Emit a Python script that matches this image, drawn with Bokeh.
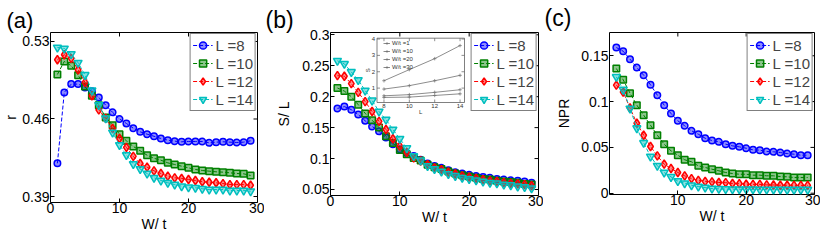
from bokeh.plotting import figure
from bokeh.models import (ColumnDataSource, FixedTicker, Legend, LegendItem,
                          Title, Range1d, PrintfTickFormatter)
from bokeh.layouts import row
from bokeh.embed import file_html
from bokeh.resources import INLINE
from bokeh.core.properties import value

FONT = "Liberation Sans"

# ---------------- data ----------------
W = list(range(1, 30))
series_labels = ["L =8", "L =10", "L =12", "L =14"]

a_L8 = [0.420, 0.484, 0.4915, 0.4915, 0.4885, 0.485, 0.4795, 0.4725, 0.466, 0.460,
        0.456, 0.4517, 0.4484, 0.4463, 0.4444, 0.4424, 0.4409, 0.440, 0.4394, 0.4397,
        0.4397, 0.4397, 0.4385, 0.4391, 0.4394, 0.4391, 0.4388, 0.4391, 0.4403]
a_L10 = [0.5002, 0.512, 0.5081, 0.4996, 0.4894, 0.481, 0.4725, 0.4614, 0.4544, 0.4463,
         0.4403, 0.4352, 0.4313, 0.4273, 0.4245, 0.4228, 0.4204, 0.4189, 0.4174, 0.4159,
         0.4144, 0.4135, 0.4129, 0.4123, 0.412, 0.4114, 0.4108, 0.4105, 0.409]
a_L12 = [0.5135, 0.518, 0.5147, 0.5044, 0.493, 0.481, 0.4683, 0.4605, 0.4514, 0.4424,
         0.4343, 0.4262, 0.4198, 0.4165, 0.4132, 0.4108, 0.4084, 0.4069, 0.4063, 0.4054,
         0.4045, 0.4033, 0.4029, 0.4024, 0.4017, 0.4008, 0.4008, 0.4008, 0.4002]
a_L14 = [0.5246, 0.5237, 0.5187, 0.5108, 0.4998, 0.4858, 0.4727, 0.4607, 0.4478, 0.4365,
         0.4275, 0.4194, 0.4148, 0.4108, 0.4069, 0.4045, 0.4024, 0.4008, 0.3993, 0.3984,
         0.3979, 0.397, 0.3963, 0.3963, 0.3963, 0.3954, 0.3954, 0.3954, 0.3948]

b_L8 = [0.181, 0.184, 0.179, 0.171, 0.161, 0.152, 0.144, 0.134, 0.123, 0.115,
        0.109, 0.104, 0.098, 0.092, 0.088, 0.085, 0.081, 0.078, 0.076, 0.074,
        0.072, 0.070, 0.069, 0.067, 0.066, 0.065, 0.064, 0.063, 0.061]
b_L10 = [0.214, 0.209, 0.200, 0.187, 0.173, 0.162, 0.150, 0.136, 0.125, 0.114,
         0.107, 0.101, 0.097, 0.090, 0.086, 0.083, 0.079, 0.076, 0.073, 0.071,
         0.069, 0.067, 0.066, 0.064, 0.063, 0.062, 0.061, 0.059, 0.058]
b_L12 = [0.234, 0.233, 0.221, 0.207, 0.192, 0.176, 0.160, 0.147, 0.132, 0.120,
         0.110, 0.101, 0.096, 0.090, 0.085, 0.082, 0.078, 0.075, 0.072, 0.070,
         0.068, 0.066, 0.064, 0.063, 0.061, 0.060, 0.059, 0.058, 0.056]
b_L14 = [0.258, 0.253, 0.240, 0.227, 0.210, 0.194, 0.176, 0.163, 0.147, 0.132,
         0.117, 0.104, 0.097, 0.088, 0.083, 0.079, 0.075, 0.072, 0.069, 0.067,
         0.065, 0.063, 0.061, 0.060, 0.058, 0.057, 0.055, 0.054, 0.052]

c_L8 = [0.159, 0.155, 0.1463, 0.1372, 0.1288, 0.1183, 0.107, 0.0961, 0.087, 0.079,
        0.0736, 0.0681, 0.0644, 0.060, 0.0575, 0.0561, 0.0535, 0.0517, 0.0506, 0.0491,
        0.0474, 0.047, 0.0455, 0.0452, 0.0444, 0.0433, 0.0426, 0.0415, 0.0415]
c_L10 = [0.1361, 0.1238, 0.1092, 0.0961, 0.0852, 0.0742, 0.0633, 0.0535, 0.0463, 0.0415,
         0.0365, 0.0343, 0.0299, 0.0281, 0.0262, 0.0245, 0.0226, 0.0215, 0.0207, 0.0207,
         0.0197, 0.0197, 0.019, 0.019, 0.0182, 0.0179, 0.0171, 0.0171, 0.0171]
c_L12 = [0.118, 0.1105, 0.093, 0.0764, 0.0633, 0.051, 0.0408, 0.0317, 0.027, 0.0226,
         0.019, 0.016, 0.014, 0.013, 0.0124, 0.0117, 0.0115, 0.0106, 0.0104, 0.0098,
         0.0097, 0.0096, 0.0091, 0.009, 0.0087, 0.0087, 0.0086, 0.0086, 0.0085]
c_L14 = [0.127, 0.113, 0.0925, 0.071, 0.055, 0.0401, 0.030, 0.0226, 0.0178, 0.0132,
         0.0109, 0.0087, 0.0073, 0.0062, 0.0051, 0.0048, 0.0045, 0.0044, 0.0043, 0.0042,
         0.0042, 0.0041, 0.004, 0.004, 0.004, 0.0039, 0.0039, 0.0039, 0.0039]

# inset of (b): S versus L
inset_L = [8, 10, 12, 14]
inset_W_labels = ["W/t =1", "W/t =10", "W/t =20", "W/t =30"]
S_W1 = [1.45, 2.13, 2.8, 3.6]
S_W10 = [0.94, 1.15, 1.45, 1.78]
S_W20 = [0.53, 0.6, 0.74, 0.9]
S_W30 = [0.43, 0.45, 0.55, 0.65]
inset_xticks = [8, 10, 12, 14]
inset_yticks = [1, 2, 3, 4]
inset_xlim = (7.45, 14.35)
inset_ylim = (0.12, 4.05)

x_ticks_ab = [0, 10, 20, 30]
x_ticks_c = [10, 20, 30]
a_yticks = [0.39, 0.46, 0.53]
a_ylabels = ["0.39", "0.46", "0.53"]
b_yticks = [0.05, 0.1, 0.15, 0.2, 0.25, 0.3]
b_ylabels = ["0.05", "0.1", "0.15", "0.2", "0.25", "0.3"]
c_yticks = [0, 0.05, 0.1, 0.15]
c_ylabels = ["0", "0.05", "0.1", "0.15"]

colors = ["#0000ff", "#008000", "#ff0000", "#00bfbf"]
markers = ["circle", "square", "diamond", "inverted_triangle"]
msizes = [6.5, 6.5, 8.5, 8]

PAGE = 8
FIG_H = 230
TICK = 4  # inward tick length in px


def style_axis(ax, ticks, labels=None, standoff=1, label_standoff=0):
    ax.ticker = FixedTicker(ticks=ticks)
    ax.axis_line_color = None
    ax.major_tick_in = TICK
    ax.major_tick_out = 0
    ax.major_tick_line_color = "black"
    ax.minor_tick_line_color = None
    ax.major_label_text_font = FONT
    ax.major_label_text_color = "black"
    ax.major_label_text_font_size = "14px"
    ax.axis_label_text_font = FONT
    ax.axis_label_text_font_style = "normal"
    ax.axis_label_text_font_size = "14px"
    ax.axis_label_text_color = "black"
    ax.axis_label_standoff = label_standoff
    ax.major_label_standoff = standoff
    ax.formatter = PrintfTickFormatter(format="%g")
    if labels is not None:
        ax.major_label_overrides = dict(zip(ticks, labels))


def make_panel(fig_x0, frame_x0, frame_w, fig_x1, frame_y0, frame_h, yr,
               xticks, yticks, ylabels, ylab, yl_standoff, tag, tag_size,
               tag_standoff, data):
    left = frame_x0 - fig_x0
    right = fig_x1 - frame_x0 - frame_w
    top = frame_y0 - PAGE
    bottom = FIG_H - top - frame_h
    p = figure(frame_width=frame_w, frame_height=frame_h,
               min_border_left=left, min_border_right=right,
               min_border_top=top, min_border_bottom=bottom,
               x_range=Range1d(0, 30), y_range=Range1d(*yr),
               output_backend="svg", toolbar_location=None)
    p.xgrid.grid_line_color = None
    p.ygrid.grid_line_color = None
    p.outline_line_color = "black"
    p.outline_line_width = 1
    p.background_fill_color = "white"
    p.border_fill_color = "white"

    style_axis(p.xaxis[0], xticks, standoff=0, label_standoff=0)
    p.xaxis[0].axis_label = "W/ t"
    style_axis(p.yaxis[0], yticks, ylabels, standoff=1, label_standoff=yl_standoff)
    p.yaxis[0].axis_label = ylab

    # inward ticks on the top and right edges of the frame
    sx = 30.0 / frame_w
    sy = (yr[1] - yr[0]) / frame_h
    nx, ny = len(xticks), len(yticks)
    p.segment(x0=xticks, y0=[yr[1]] * nx, x1=xticks, y1=[yr[1] - TICK * sy] * nx,
              line_color="black", line_width=1)
    p.segment(x0=[30] * ny, y0=yticks, x1=[30 - TICK * sx] * ny, y1=yticks,
              line_color="black", line_width=1)

    items = []
    for vals, c, m, s, lab in zip(data, colors, markers, msizes, series_labels):
        src = ColumnDataSource(dict(x=W, y=vals))
        lr = p.line("x", "y", source=src, line_color=c, line_dash="4 2", line_width=1)
        sr = p.scatter("x", "y", source=src, marker=m, size=s, line_color=c,
                       fill_color=c, fill_alpha=0.45, line_width=1.5)
        items.append(LegendItem(label=lab, renderers=[lr, sr]))
    leg = Legend(items=items, location="top_right", margin=1, padding=2, spacing=0,
                 glyph_width=20, glyph_height=18, label_height=18, label_standoff=3,
                 label_text_font=FONT, label_text_font_size="15px",
                 border_line_color="black", border_line_width=1,
                 background_fill_color="white", background_fill_alpha=1)
    p.add_layout(leg)

    # panel tag as a left-aligned title shifted to the figure's left edge
    t = Title(text=tag, align="left", offset=(fig_x0 + 1 - frame_x0),
              standoff=tag_standoff, text_font=FONT, text_font_size=tag_size,
              text_font_style="normal", text_color="black")
    p.add_layout(t, "above")
    return p


pa = make_panel(8, 53, 207, 267, 33, 170, (0.3846, 0.5381), x_ticks_ab,
                a_yticks, a_ylabels, "r", 0, "(a)", "22px", 0,
                [a_L8, a_L10, a_L12, a_L14])
pb = make_panel(267, 333, 208, 546, 36, 163, (0.0403, 0.3037), x_ticks_ab,
                b_yticks, b_ylabels, "S/ L", 7, "(b)", "23px", 0,
                [b_L8, b_L10, b_L12, b_L14])
pc = make_panel(546, 612, 205, 823, 40, 162, (-0.0014, 0.1754), x_ticks_c,
                c_yticks, c_ylabels, "NPR", 6, "(c)", "23px", 4,
                [c_L8, c_L10, c_L12, c_L14])

# ---------------- inset in (b) ----------------
FW, FH = 208, 163
box_l, box_r, box_t, box_b = 46.5, 134.0, 5.7, 70.0   # inset box in frame pixels
isx = (box_r - box_l) / (inset_xlim[1] - inset_xlim[0])
isy = (box_b - box_t) / (inset_ylim[1] - inset_ylim[0])
ix0 = inset_xlim[0] - box_l / isx
iy1 = inset_ylim[1] + box_t / isy
pb.extra_x_ranges = {"ix": Range1d(ix0, ix0 + FW / isx)}
pb.extra_y_ranges = {"iy": Range1d(iy1 - FH / isy, iy1)}
kw = dict(x_range_name="ix", y_range_name="iy")

pb.quad(left=[inset_xlim[0]], right=[inset_xlim[1]], bottom=[inset_ylim[0]],
        top=[inset_ylim[1]], fill_color="white", line_color="#606060",
        line_width=0.8, **kw)
tlx = 3 / isx
tly = 3 / isy
n = len(inset_xticks)
pb.segment(x0=inset_xticks, y0=[inset_ylim[0]] * n, x1=inset_xticks,
           y1=[inset_ylim[0] + tly] * n, line_color="#606060", line_width=0.7, **kw)
pb.segment(x0=inset_xticks, y0=[inset_ylim[1]] * n, x1=inset_xticks,
           y1=[inset_ylim[1] - tly] * n, line_color="#606060", line_width=0.7, **kw)
m = len(inset_yticks)
pb.segment(x0=[inset_xlim[0]] * m, y0=inset_yticks, x1=[inset_xlim[0] + tlx] * m,
           y1=inset_yticks, line_color="#606060", line_width=0.7, **kw)
pb.segment(x0=[inset_xlim[1]] * m, y0=inset_yticks, x1=[inset_xlim[1] - tlx] * m,
           y1=inset_yticks, line_color="#606060", line_width=0.7, **kw)
pb.text(x=inset_xticks, y=[inset_ylim[0]] * n, text=[str(v) for v in inset_xticks],
        text_font=value(FONT), text_font_size="6px", text_align="center",
        text_baseline="top", y_offset=1.5, text_color="#333333", **kw)
pb.text(x=[inset_xlim[0]] * m, y=inset_yticks, text=[str(v) for v in inset_yticks],
        text_font=value(FONT), text_font_size="6px", text_align="right",
        text_baseline="middle", x_offset=-2, text_color="#333333", **kw)
pb.text(x=[inset_xlim[0]], y=[(inset_ylim[0] + inset_ylim[1]) / 2], text=["S"],
        text_font=value(FONT), text_font_size="6px", text_align="center",
        text_baseline="middle", x_offset=-9, angle=1.5708, text_color="#333333", **kw)
pb.text(x=[(inset_xlim[0] + inset_xlim[1]) / 2], y=[inset_ylim[0]], text=["L"],
        text_font=value(FONT), text_font_size="6px", text_align="center",
        text_baseline="middle", y_offset=9, text_color="#333333", **kw)

inset_items = []
for vals, lab in zip([S_W1, S_W10, S_W20, S_W30], inset_W_labels):
    lr = pb.line(inset_L, vals, line_color="#707070", line_width=0.8, **kw)
    sr = pb.scatter(inset_L, vals, marker="cross", size=3.5, line_color="#707070",
                    line_width=0.7, **kw)
    inset_items.append(LegendItem(label=lab, renderers=[lr, sr]))
ileg = Legend(items=inset_items, location=(53, 124), margin=0, padding=1, spacing=0,
              glyph_width=7, glyph_height=8, label_height=8, label_width=10,
              label_standoff=2, label_text_font=FONT, label_text_font_size="6px",
              label_text_color="#333333", border_line_color=None,
              background_fill_alpha=0)
pb.add_layout(ileg)

layout = row(pa, pb, pc)
open("out.html", "w").write(file_html(layout, INLINE))
